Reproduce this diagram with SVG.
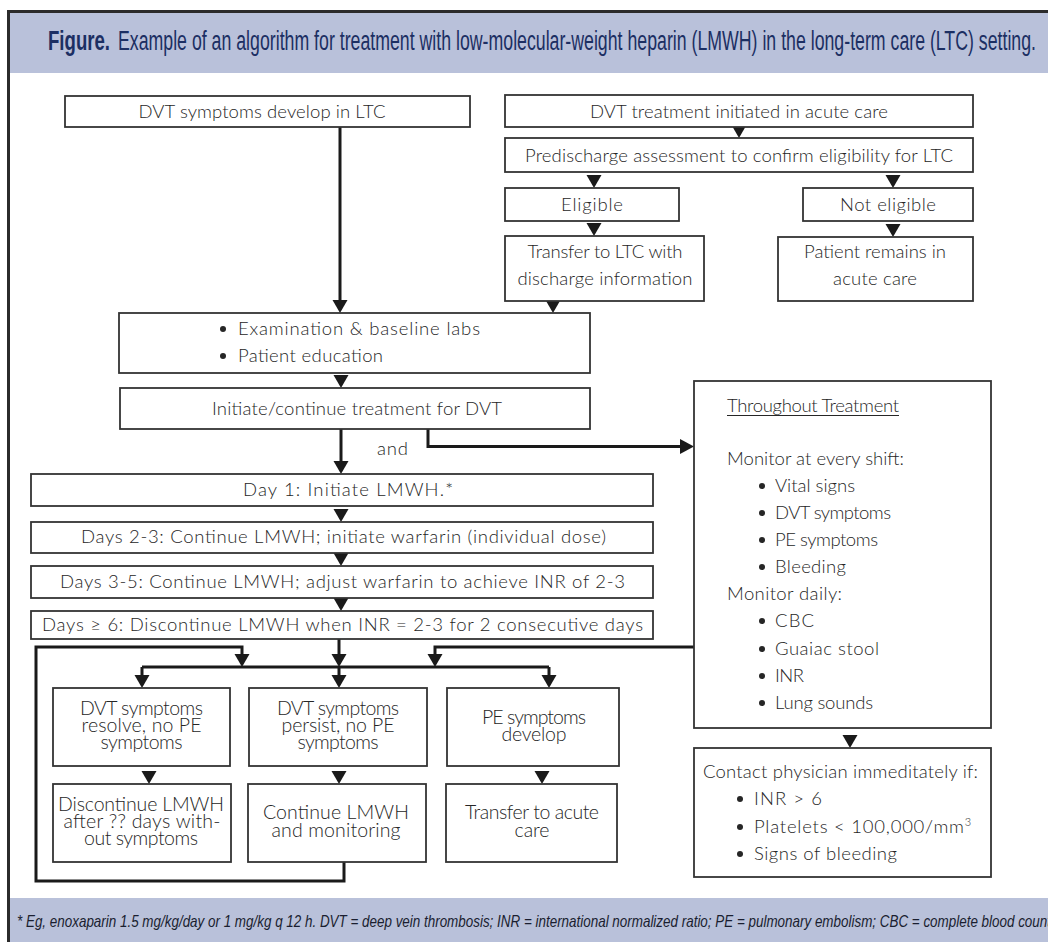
<svg xmlns="http://www.w3.org/2000/svg" width="1048" height="942" viewBox="0 0 1048 942">
<style>
.box{fill:#fff;stroke:#333;stroke-width:1.8}
.t{font-family:Lato,'DejaVu Sans',sans-serif;font-weight:300;font-size:18.5px;fill:#262626}
.s{font-family:Lato,'DejaVu Sans',sans-serif;font-weight:300;font-size:19.5px;fill:#262626}
.m{text-anchor:middle}
.ln{fill:none;stroke:#1a1a1a;stroke-width:3}
.ah{fill:#1a1a1a}
.band{fill:#b9c1da}
.ttl{font-family:'Liberation Sans',Arial,sans-serif;font-size:27px;fill:#1c2f63}
.ftr{font-family:'Liberation Sans',Arial,sans-serif;font-size:17px;font-style:italic;fill:#1a1e30}
</style>
<defs>
<path id="ad" d="M-7.5,-13 L7.5,-13 L0,0 Z"/>
<path id="ar" d="M-14,-7.5 L-14,7.5 L0,0 Z"/>
</defs>
<rect width="1048" height="942" fill="#fff"/>
<g id="frame">
<rect class="band" x="10" y="13" width="1038" height="60"/>
<rect class="band" x="10" y="898" width="1038" height="44"/>
<path d="M8.5,942 V11.5 H1048" fill="none" stroke="#2b2b2b" stroke-width="3"/>
<text class="ttl" x="48" y="50" font-weight="bold" textLength="62" lengthAdjust="spacingAndGlyphs">Figure.</text>
<text class="ttl" x="118" y="50" textLength="918" lengthAdjust="spacingAndGlyphs">Example of an algorithm for treatment with low-molecular-weight heparin (LMWH) in the long-term care (LTC) setting.</text>
<text class="ftr" x="17" y="927" textLength="1034" lengthAdjust="spacingAndGlyphs">* Eg, enoxaparin 1.5 mg/kg/day or 1 mg/kg q 12 h. DVT = deep vein thrombosis; INR = international normalized ratio; PE = pulmonary embolism; CBC = complete blood count</text>
</g>
<g id="connectors">
<path class="ln" d="M340,127 V302"/>
<path class="ln" d="M341,429 V463"/>
<path class="ln" d="M428,429 V446.5 H682"/>
<path class="ln" d="M339,639 V656"/>
<path class="ln" d="M142,667 H549"/>
<path class="ln" d="M142,667 V677 M339,667 V677 M549,667 V677"/>
<path class="ln" d="M344,862 V881 H36 V647 H242 V656"/>
<path class="ln" d="M694,647 H435 V656"/>
<g class="ah">
<use href="#ad" x="340" y="313"/>
<use href="#ad" x="739" y="138"/>
<use href="#ad" x="594" y="188"/>
<use href="#ad" x="893" y="188"/>
<use href="#ad" x="594" y="236"/>
<use href="#ad" x="893" y="237"/>
<use href="#ad" x="553" y="313"/>
<use href="#ad" x="341" y="388"/>
<use href="#ad" x="341" y="474"/>
<use href="#ar" x="694" y="446.5"/>
<use href="#ad" x="341" y="522"/>
<use href="#ad" x="341" y="566"/>
<use href="#ad" x="341" y="611"/>
<use href="#ad" x="339" y="667"/>
<use href="#ad" x="242" y="667"/>
<use href="#ad" x="435" y="667"/>
<use href="#ad" x="142" y="688"/>
<use href="#ad" x="339" y="688"/>
<use href="#ad" x="549" y="688"/>
<use href="#ad" x="149" y="784"/>
<use href="#ad" x="339" y="784"/>
<use href="#ad" x="542" y="784"/>
<use href="#ad" x="850" y="748"/>
</g>
<text class="t" x="377" y="455" textLength="31">and</text>
</g>
<g id="n1"><rect class="box" x="65" y="96" width="405" height="31"/><text class="t m" x="262" y="118" textLength="247">DVT symptoms develop in LTC</text></g>
<g id="n2"><rect class="box" x="505" y="95" width="468" height="32"/><text class="t m" x="739" y="118" textLength="298">DVT treatment initiated in acute care</text></g>
<g id="n3"><rect class="box" x="505" y="138" width="468" height="34"/><text class="t m" x="739" y="162" textLength="428">Predischarge assessment to confirm eligibility for LTC</text></g>
<g id="n4"><rect class="box" x="505" y="188" width="174" height="33"/><text class="t m" x="592" y="211" textLength="62">Eligible</text></g>
<g id="n5"><rect class="box" x="803" y="188" width="170" height="33"/><text class="t m" x="888" y="211" textLength="96">Not eligible</text></g>
<g id="n6"><rect class="box" x="505" y="236" width="199" height="65"/><text class="t m" x="605" y="258" textLength="155">Transfer to LTC with</text><text class="t m" x="605" y="285" textLength="175">discharge information</text></g>
<g id="n7"><rect class="box" x="778" y="237" width="195" height="64"/><text class="t m" x="875" y="258" textLength="142">Patient remains in</text><text class="t m" x="875" y="285" textLength="84">acute care</text></g>
<g id="n8"><rect class="box" x="119" y="313" width="471" height="60"/><circle cx="223" cy="329" r="3" fill="#262626"/><text class="t" x="238" y="335" textLength="242">Examination &amp; baseline labs</text><circle cx="223" cy="356" r="3" fill="#262626"/><text class="t" x="238" y="362" textLength="145">Patient education</text></g>
<g id="n9"><rect class="box" x="120" y="388" width="470" height="41"/><text class="t m" x="357" y="415" textLength="290">Initiate/continue treatment for DVT</text></g>
<g id="n10"><rect class="box" x="31" y="474" width="622" height="32"/><text class="t m" x="348" y="496" textLength="210">Day 1: Initiate LMWH.*</text></g>
<g id="n11"><rect class="box" x="31" y="522" width="622" height="31"/><text class="t m" x="343.5" y="543" textLength="525">Days 2-3: Continue LMWH; initiate warfarin (individual dose)</text></g>
<g id="n12"><rect class="box" x="31" y="566" width="622" height="32"/><text class="t m" x="342.5" y="588" textLength="565">Days 3-5: Continue LMWH; adjust warfarin to achieve INR of 2-3</text></g>
<g id="n13"><rect class="box" x="31" y="611" width="622" height="28"/><text class="t m" x="342.5" y="631" textLength="601">Days ≥ 6: Discontinue LMWH when INR = 2-3 for 2 consecutive days</text></g>
<g id="n14"><rect class="box" x="694" y="381" width="297" height="347"/>
<text class="t" x="727" y="412" textLength="172">Throughout Treatment</text><path d="M727,415.5 H899" stroke="#262626" stroke-width="1.2"/>
<text class="t" x="727" y="465" textLength="177">Monitor at every shift:</text>
<g fill="#262626"><circle cx="762" cy="486" r="3"/><circle cx="762" cy="513" r="3"/><circle cx="762" cy="540" r="3"/><circle cx="762" cy="567" r="3"/><circle cx="762" cy="621" r="3"/><circle cx="762" cy="649" r="3"/><circle cx="762" cy="676" r="3"/><circle cx="762" cy="703" r="3"/></g>
<text class="t" x="775" y="492" textLength="80">Vital signs</text>
<text class="t" x="775" y="519" textLength="116">DVT symptoms</text>
<text class="t" x="775" y="546" textLength="103">PE symptoms</text>
<text class="t" x="775" y="573" textLength="71">Bleeding</text>
<text class="t" x="727" y="600" textLength="115">Monitor daily:</text>
<text class="t" x="775" y="627" textLength="39">CBC</text>
<text class="t" x="775" y="655" textLength="104">Guaiac stool</text>
<text class="t" x="775" y="682" textLength="29">INR</text>
<text class="t" x="775" y="709" textLength="98">Lung sounds</text>
</g>
<g id="n15"><rect class="box" x="694" y="748" width="297" height="129"/>
<text class="t" x="703" y="778" textLength="275">Contact physician immeditately if:</text>
<g fill="#262626"><circle cx="740" cy="799" r="3"/><circle cx="740" cy="827" r="3"/><circle cx="740" cy="854" r="3"/></g>
<text class="t" x="754" y="805" textLength="68">INR &gt; 6</text>
<text class="t" x="754" y="833"><tspan textLength="210">Platelets &lt; 100,000/mm</tspan><tspan font-size="11" dy="-7">3</tspan></text>
<text class="t" x="754" y="860" textLength="143">Signs of bleeding</text>
</g>
<g id="n16"><rect class="box" x="53" y="688" width="177" height="78"/><text class="s m" x="141.5" y="715" textLength="123">DVT symptoms</text><text class="s m" x="141.5" y="732" textLength="120">resolve, no PE</text><text class="s m" x="141.5" y="749" textLength="82">symptoms</text></g>
<g id="n17"><rect class="box" x="249" y="688" width="178" height="78"/><text class="s m" x="338" y="715" textLength="122">DVT symptoms</text><text class="s m" x="338" y="732" textLength="113">persist, no PE</text><text class="s m" x="338" y="749" textLength="81">symptoms</text></g>
<g id="n18"><rect class="box" x="447" y="688" width="172" height="78"/><text class="s m" x="534" y="724" textLength="104">PE symptoms</text><text class="s m" x="534" y="741" textLength="65">develop</text></g>
<g id="n19"><rect class="box" x="53" y="784" width="178" height="78"/><text class="s m" x="141" y="811" textLength="166">Discontinue LMWH</text><text class="s m" x="142" y="828" textLength="157">after ?? days with-</text><text class="s m" x="141" y="845" textLength="114">out symptoms</text></g>
<g id="n20"><rect class="box" x="248" y="784" width="178" height="78"/><text class="s m" x="336" y="819" textLength="146">Continue LMWH</text><text class="s m" x="336" y="837" textLength="129">and monitoring</text></g>
<g id="n21"><rect class="box" x="446" y="784" width="171" height="78"/><text class="s m" x="532" y="819" textLength="134">Transfer to acute</text><text class="s m" x="532" y="837" textLength="35">care</text></g>
</svg>
